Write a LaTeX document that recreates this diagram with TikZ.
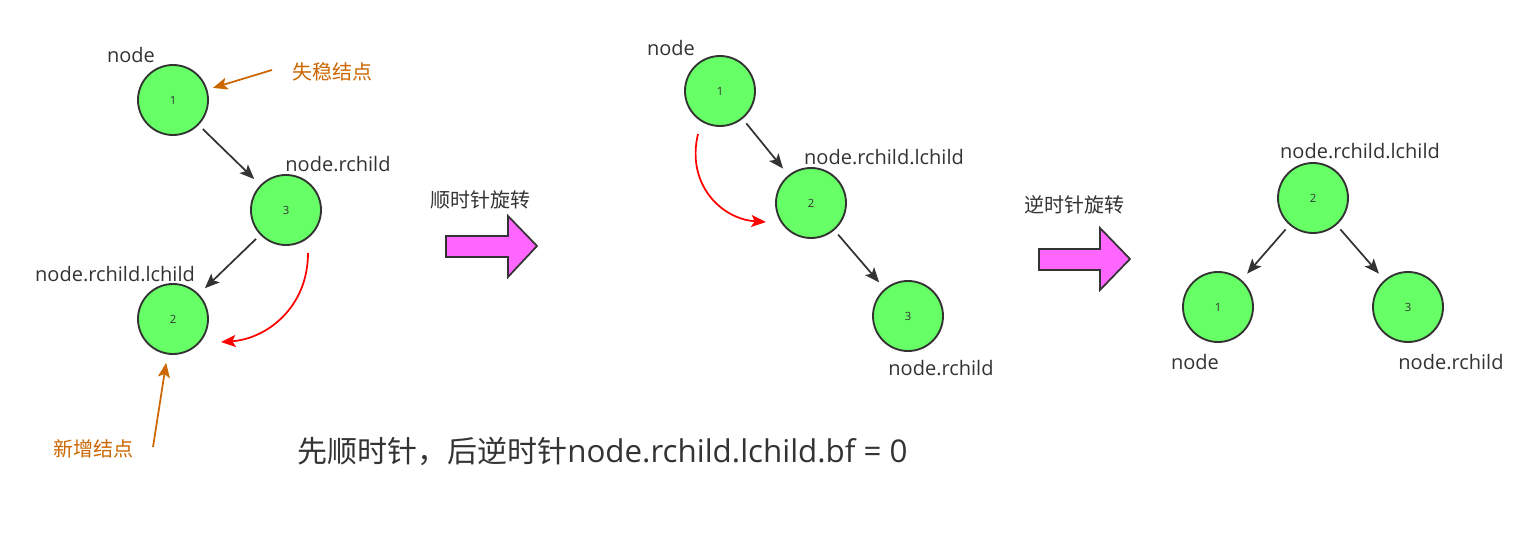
\documentclass[tikz,border=0pt]{standalone}
\usepackage{fontspec}
\setmainfont{Open Sans}
\newfontfamily\cjk{Noto Sans CJK SC}
\usetikzlibrary{arrows.meta,calc}
\definecolor{ink}{HTML}{333333}
\definecolor{nodegreen}{HTML}{66FF66}
\definecolor{warnorange}{HTML}{CC6600}
\definecolor{arrowpink}{HTML}{FF66FF}
\definecolor{curvered}{HTML}{FF0000}
\begin{document}
\begin{tikzpicture}[x=0.75pt,y=-0.75pt,
  tnode/.style={circle,draw=ink,fill=nodegreen,line width=1.4pt,minimum size=52.5pt,inner sep=0pt,outer sep=0pt,text=ink,font=\fontsize{8.5}{10}\selectfont},
  lbl/.style={text=ink,inner sep=0pt,font=\fontsize{15}{18}\selectfont},
  cnlbl/.style={text=ink,inner sep=0pt,font=\cjk\fontsize{15}{18}\selectfont},
  olbl/.style={text=warnorange,inner sep=0pt,font=\cjk\fontsize{15}{18}\selectfont},
  tip/.style={-{Stealth[length=11pt,width=9pt,inset=2.5pt]}},
  link/.style={draw=ink,line width=1.3pt,tip,shorten <=5pt,shorten >=7pt},
  redlink/.style={draw=curvered,line width=1.3pt,tip},
  olink/.style={draw=warnorange,line width=1.3pt,tip},
  bigarrow/.style={draw=ink,fill=arrowpink,line width=1.3pt,line join=miter}
]
\useasboundingbox (0,0) rectangle (1536,545);

% panel 1
\node[tnode] (a1) at (173,100) {1};
\node[tnode] (a3) at (286,210) {3};
\node[tnode] (a2) at (173,319) {2};
\node[lbl] (la1) at (131,55) {node};
\node[lbl] (la3) at (338,164) {node.rchild};
\node[lbl] (la2) at (115,274) {node.rchild.lchild};
\node[olbl] (unst) at (332,72) {失稳结点};
\node[olbl] (newn) at (93,449) {新增结点};
\draw[link] (a1) -- (a3);
\draw[link] (a3) -- (a2);
\draw[redlink] ($(a3)+(22,43)$) .. controls +(0,55) and +(45,-3) .. ($(a2)+(48,23)$);
\coordinate (s1) at (272,70);
\draw[olink,shorten >=5pt] (s1) -- (a1);
\coordinate (s2) at (153,447);
\draw[olink,shorten >=7pt] (s2) -- (a2);

% arrow 1
\draw[bigarrow] (446,236) -- (508,236) -- (508,216) -- (537,246) -- (508,277) -- (508,257) -- (446,257) -- cycle;
\node[cnlbl] (cw) at (480,200) {顺时针旋转};

% panel 2
\node[tnode] (b1) at (720,91) {1};
\node[tnode] (b2) at (811,203) {2};
\node[tnode] (b3) at (908,316) {3};
\node[lbl] (lb1) at (671,48) {node};
\node[lbl] (lb2) at (884,157) {node.rchild.lchild};
\node[lbl] (lb3) at (941,368) {node.rchild};
\draw[link] (b1) -- (b2);
\draw[link] (b2) -- (b3);
\draw[redlink] ($(b1)+(-22,43)$) .. controls +(-12,50) and +(-45,-3) .. ($(b2)+(-45,19)$);

% arrow 2
\draw[bigarrow] (1039,249) -- (1100,249) -- (1100,228) -- (1130,259) -- (1100,290) -- (1100,270) -- (1039,270) -- cycle;
\node[cnlbl] (ccw) at (1074,205) {逆时针旋转};

% panel 3
\node[tnode] (c2) at (1313,198) {2};
\node[tnode] (c1) at (1218,307) {1};
\node[tnode] (c3) at (1408,307) {3};
\node[lbl] (lc2) at (1360,151) {node.rchild.lchild};
\node[lbl] (lc1) at (1195,362) {node};
\node[lbl] (lc3) at (1451,362) {node.rchild};
\draw[link] (c2) -- (c1);
\draw[link] (c2) -- (c3);

% summary
\node[text=ink,anchor=west,inner sep=0pt,font=\fontsize{22.5}{27}\selectfont] (summary) at (297,451) {{\cjk 先顺时针，后逆时针}{\fontsize{23.5}{27}\selectfont node.rchild.lchild.bf = 0}};
\end{tikzpicture}
\end{document}
